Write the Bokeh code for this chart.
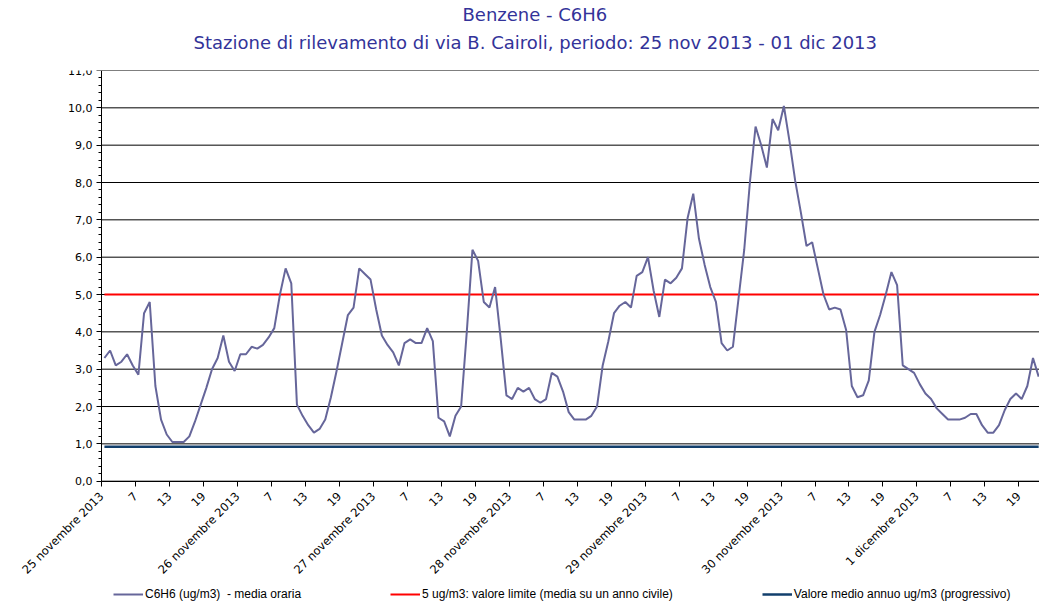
import numpy as np
from bokeh.plotting import figure
from bokeh.models import Range1d, FixedTicker, Title, Legend, LegendItem
from bokeh.embed import file_html
from bokeh.resources import INLINE

# ---------------- data ----------------
title_line1 = "Benzene - C6H6"
title_line2 = "Stazione di rilevamento di via B. Cairoli, periodo: 25 nov 2013 - 01 dic 2013"

day_labels = ["25 novembre 2013", "26 novembre 2013", "27 novembre 2013",
              "28 novembre 2013", "29 novembre 2013", "30 novembre 2013",
              "1 dicembre 2013"]
hour_labels = ["7", "13", "19"]

series_label = "C6H6 (ug/m3)  - media oraria"
limit_label = "5 ug/m3: valore limite (media su un anno civile)"
mean_label = "Valore medio annuo ug/m3 (progressivo)"

# hourly C6H6 values (ug/m3), one list per day
c6h6_25nov = [3.3, 3.5, 3.1, 3.2, 3.4, 3.1, 2.85, 4.5, 4.8, 2.55, 1.65, 1.25,
              1.05, 1.05, 1.05, 1.2, 1.6, 2.05, 2.5, 3.0, 3.3, 3.9, 3.2, 2.95]
c6h6_26nov = [3.4, 3.4, 3.6, 3.55, 3.65, 3.85, 4.1, 5.0, 5.7, 5.3, 2.05, 1.75,
              1.5, 1.3, 1.4, 1.65, 2.25, 2.95, 3.7, 4.45, 4.65, 5.7, 5.55, 5.4]
c6h6_27nov = [4.6, 3.9, 3.65, 3.45, 3.1, 3.7, 3.8, 3.7, 3.7, 4.1, 3.75, 1.7,
              1.6, 1.2, 1.75, 2.0, 4.0, 6.2, 5.9, 4.8, 4.65, 5.2, 3.8, 2.3]
c6h6_28nov = [2.2, 2.5, 2.4, 2.5, 2.2, 2.1, 2.2, 2.9, 2.8, 2.4, 1.85, 1.65,
              1.65, 1.65, 1.75, 2.0, 3.1, 3.75, 4.5, 4.7, 4.8, 4.65, 5.5, 5.6]
c6h6_29nov = [6.0, 5.1, 4.4, 5.4, 5.3, 5.45, 5.7, 7.05, 7.7, 6.5, 5.8, 5.2,
              4.8, 3.7, 3.5, 3.6, 4.9, 6.2, 8.0, 9.5, 9.0, 8.4, 9.7, 9.4]
c6h6_30nov = [10.05, 9.1, 8.05, 7.2, 6.3, 6.4, 5.7, 5.0, 4.6, 4.65, 4.6, 4.05,
              2.55, 2.25, 2.3, 2.7, 4.0, 4.45, 5.0, 5.6, 5.25, 3.1, 3.0, 2.9]
c6h6_01dic = [2.6, 2.35, 2.2, 1.95, 1.8, 1.65, 1.65, 1.65, 1.7, 1.8, 1.8, 1.5,
              1.3, 1.3, 1.5, 1.9, 2.2, 2.35, 2.2, 2.55, 3.3, 2.8]

limit_value = 5.0       # ug/m3 limit
annual_mean = 0.92      # progressive annual mean

y_ticks = [0, 1, 2, 3, 4, 5, 6, 7, 8, 9, 10, 11]

# ---------------- build ----------------
hourly = (c6h6_25nov + c6h6_26nov + c6h6_27nov + c6h6_28nov +
          c6h6_29nov + c6h6_30nov + c6h6_01dic)
hours = np.arange(len(hourly)) + 0.5
limit_series = [limit_value] * len(hourly)
mean_series = [annual_mean] * len(hourly)

X_START, X_END = -17.856, 165.65   # axes are fixed at x = 0 and y = 0

# the frame covers the whole page below the titles; both axes sit at 0
p = figure(frame_width=1039, frame_height=533, output_backend="svg",
           toolbar_location=None,
           x_range=Range1d(X_START, X_END), y_range=Range1d(-3.276, 11),
           min_border_left=0, min_border_right=0, min_border_top=70,
           min_border_bottom=0)
p.outline_line_color = None
p.background_fill_color = "white"
p.border_fill_color = "white"

# horizontal grid lines, from the y axis to the right edge
p.xgrid.grid_line_color = None
p.ygrid.grid_line_color = None
p.segment(x0=[0] * len(y_ticks), y0=y_ticks, x1=[X_END] * len(y_ticks),
          y1=y_ticks, line_color="#000000", line_width=1)

r_lim = p.line(hours, limit_series, line_color="#ff0000", line_width=2)
r_mean = p.line(hours, mean_series, line_color="#123f6c", line_width=2.5)
r_ser = p.line(hours, hourly, line_color="#66669a", line_width=2)

AX_FONT = "DejaVu Sans"

# y axis
minor = [round(t + k * 0.2, 1) for t in y_ticks[:-1] for k in range(1, 5)]
p.yaxis.fixed_location = 0
p.yaxis.ticker = FixedTicker(ticks=y_ticks, minor_ticks=minor)
p.yaxis.bounds = (0, 11)
p.yaxis.major_label_overrides = {t: f"{t},0" for t in y_ticks}
p.yaxis.major_tick_in = 0
p.yaxis.major_tick_out = 5
p.yaxis.minor_tick_in = 0
p.yaxis.minor_tick_out = 3
p.yaxis.axis_line_color = "#000000"
p.yaxis.major_tick_line_color = "#000000"
p.yaxis.minor_tick_line_color = "#000000"
p.yaxis.major_label_text_font = AX_FONT
p.yaxis.major_label_text_font_size = "11px"
p.yaxis.major_label_text_color = "#000000"
p.yaxis.major_label_standoff = 4

# x axis
x_ticks = list(range(0, 163, 6))
x_over = {}
for t in x_ticks:
    d, r = divmod(t, 24)
    x_over[t] = day_labels[d] if r == 0 else hour_labels[r // 6 - 1]
p.xaxis.fixed_location = 0
p.xaxis.ticker = FixedTicker(ticks=x_ticks)
p.xaxis.bounds = (0, X_END)
p.xaxis.major_label_overrides = x_over
p.xaxis.major_label_orientation = np.pi / 4
p.xaxis.major_tick_in = 0
p.xaxis.major_tick_out = 5
p.xaxis.minor_tick_line_color = None
p.xaxis.axis_line_color = "#000000"
p.xaxis.major_tick_line_color = "#000000"
p.xaxis.major_label_text_font = AX_FONT
p.xaxis.major_label_text_font_size = "11.5px"
p.xaxis.major_label_text_color = "#000000"
p.xaxis.major_label_standoff = 8

# titles
p.add_layout(Title(text=title_line2, align="left", offset=193, standoff=36,
                   text_font="DejaVu Sans", text_font_size="18px",
                   text_font_style="normal", text_color="#333399"), "above")
p.add_layout(Title(text=title_line1, align="left", offset=462, standoff=-27,
                   text_font="DejaVu Sans", text_font_size="18px",
                   text_font_style="normal", text_color="#333399"), "above")

legend = Legend(items=[LegendItem(label=series_label, renderers=[r_ser]),
                       LegendItem(label=limit_label, renderers=[r_lim]),
                       LegendItem(label=mean_label, renderers=[r_mean])],
                location=(113, 2), orientation="horizontal", spacing=89,
                padding=0, margin=0, glyph_width=30, glyph_height=12,
                label_height=14, label_standoff=2,
                label_text_font="Liberation Sans",
                label_text_font_size="12px", label_text_color="#000000",
                background_fill_alpha=0, border_line_color=None)
p.add_layout(legend, "center")

open("out.html", "w").write(file_html(p, INLINE))
